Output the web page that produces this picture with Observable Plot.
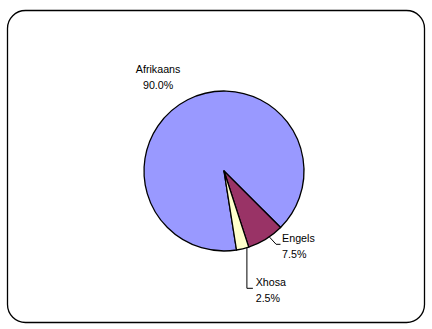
<!DOCTYPE html>
<html><head><meta charset="utf-8">
<script src="https://cdn.jsdelivr.net/npm/d3@7"></script>
<script src="https://cdn.jsdelivr.net/npm/@observablehq/plot@0.6"></script>
<style>html,body{margin:0;padding:0;background:#fff;}</style>
</head><body><div id="chart"></div>
<script>
// ---- data ----
const languages = ["Afrikaans", "Engels", "Xhosa"];
const shares = [90.0, 7.5, 2.5];
const colors = ["#9999FF", "#993366", "#FFFFCC"];

// ---- layout ----
const W = 432, H = 329;
const cx = 224, cy = 171, R = 80;
const startDeg = 171;
const start = startDeg * Math.PI / 180;

const rows = languages.map((l, i) => ({language: l, share: shares[i], color: colors[i]}));
const slices = d3.pie().sort(null).value(d => d.share)
  .startAngle(start).endAngle(start + 2 * Math.PI)(rows);

const pct = v => d3.format(".1f")(v) + "%";

// label placement in pie-radius units (layout, not data)
const deg = a => a * Math.PI / 180;
const labelLayout = {
  Afrikaans: {x: -0.83, y: 1.19, anchor: "middle", leader: null},
  Engels: {x: 0.72, y: -0.92, anchor: "start",
    leader: [[Math.sin(deg(145.5)), Math.cos(deg(145.5))], [0.645, -0.91], [0.695, -0.91]]},
  Xhosa: {x: 0.39, y: -1.47, anchor: "start",
    leader: [[0.28, -Math.sqrt(1 - 0.28 * 0.28)], [0.28, -1.46], [0.35, -1.46]]}
};

const labelData = rows.map(r => ({
  text: r.language + "\n" + pct(r.share),
  x: labelLayout[r.language].x,
  y: labelLayout[r.language].y,
  anchor: labelLayout[r.language].anchor
}));
const leaderData = rows.flatMap(r => (labelLayout[r.language].leader || [])
  .map(([x, y]) => ({language: r.language, x, y})));

function pieMark(index, scales) {
  const x0 = scales.x(0), y0 = scales.y(0), r = scales.x(1) - x0;
  const arc = d3.arc().innerRadius(0).outerRadius(r);
  const g = d3.create("svg:g").attr("transform", `translate(${x0},${y0})`);
  g.selectAll("path").data(slices).join("path")
    .attr("d", arc)
    .attr("fill", d => d.data.color)
    .attr("stroke", "#000")
    .attr("stroke-width", 1.3)
    .attr("stroke-linejoin", "round");
  return g.node();
}

const chart = Plot.plot({
  width: W, height: H,
  marginLeft: 7, marginTop: 10, marginRight: 8, marginBottom: 7,
  style: {fontFamily: "'Liberation Sans', Arial, sans-serif", fontSize: "10.7px", background: "#fff", color: "#000"},
  x: {domain: [-1, 1], range: [cx - R, cx + R], axis: null},
  y: {domain: [-1, 1], range: [cy + R, cy - R], axis: null},
  marks: [
    Plot.frame({rx: 18, stroke: "#000", strokeWidth: 1.3}),
    pieMark,
    Plot.line(leaderData, {x: "x", y: "y", z: "language", stroke: "#000", strokeWidth: 1}),
    Plot.text(labelData.filter(d => d.anchor === "middle"), {x: "x", y: "y", text: "text", textAnchor: "middle", lineHeight: 1.5, fill: "#000", fontSize: 10.7}),
    Plot.text(labelData.filter(d => d.anchor === "start"), {x: "x", y: "y", text: "text", textAnchor: "start", lineHeight: 1.5, fill: "#000", fontSize: 10.7})
  ]
});
document.getElementById("chart").appendChild(chart);
</script>
</body></html>
